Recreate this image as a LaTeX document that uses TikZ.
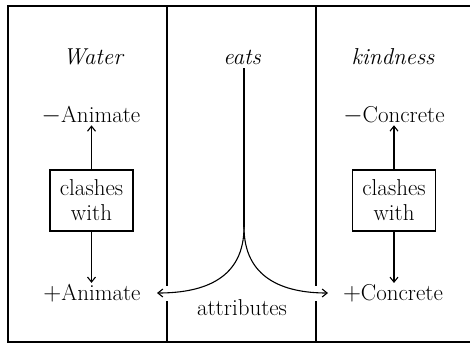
\documentclass[tikz,border=0pt]{standalone}
\usetikzlibrary{arrows.meta}
\begin{document}
\begin{tikzpicture}[x=1pt,y=-1pt,
  txt/.style={font=\fontsize{23}{27}\selectfont, inner sep=1pt},
  ital/.style={font=\fontsize{23}{27}\selectfont\itshape, inner sep=1pt},
  clash/.style={draw, line width=1.1pt, font=\fontsize{23}{25}\selectfont, align=center,
    minimum width=83pt, minimum height=61pt, inner sep=0pt},
  ln/.style={line width=1.1pt},
  arr/.style={line width=1.1pt, -{Straight Barb[length=5pt,width=8pt]}}]
\useasboundingbox (0,0) rectangle (470,343);
% frame
\draw[ln] (470,6) -- (8,6) -- (8,342) -- (470,342);
\draw[ln] (167,6) -- (167,286);
\draw[ln] (167,301) -- (167,342);
\draw[ln] (316,6) -- (316,286);
\draw[ln] (316,301) -- (316,342);
% headings
\node[ital] (water) at (93,57) {Water};
\node[ital] (eats) at (242,57) {eats};
\node[ital] (kind) at (393,57) {kindness};
% left column
\node[txt] (nA) at (91,115) {$-$Animate};
\node[clash] (box1) at (91.5,200.5) {clashes\\with};
\node[txt] (pA) at (92,293) {$+$Animate};
\draw[arr] (box1.north) -- (box1.north |- nA.south);
\draw[arr] (box1.south) -- (box1.south |- pA.north);
% right column
\node[txt] (nC) at (394,115) {$-$Concrete};
\node[clash] (box2) at (394,200.5) {clashes\\with};
\node[txt] (pC) at (393,293) {$+$Concrete};
\draw[arr] (box2.north) -- (box2.north |- nC.south);
\draw[arr] (box2.south) -- (box2.south |- pC.north);
% middle
\coordinate (top) at (244,68);
\coordinate (cusp) at (244,227);
\coordinate (lt) at (157,293);
\coordinate (rt) at (328,293);
\draw[ln] (top) -- (cusp);
\draw[arr] (cusp) .. controls (244,278) and (205,293) .. (lt);
\draw[arr] (cusp) .. controls (244,278) and (283,293) .. (rt);
\node[txt] (attr) at (242,308) {attributes};
\end{tikzpicture}
\end{document}
